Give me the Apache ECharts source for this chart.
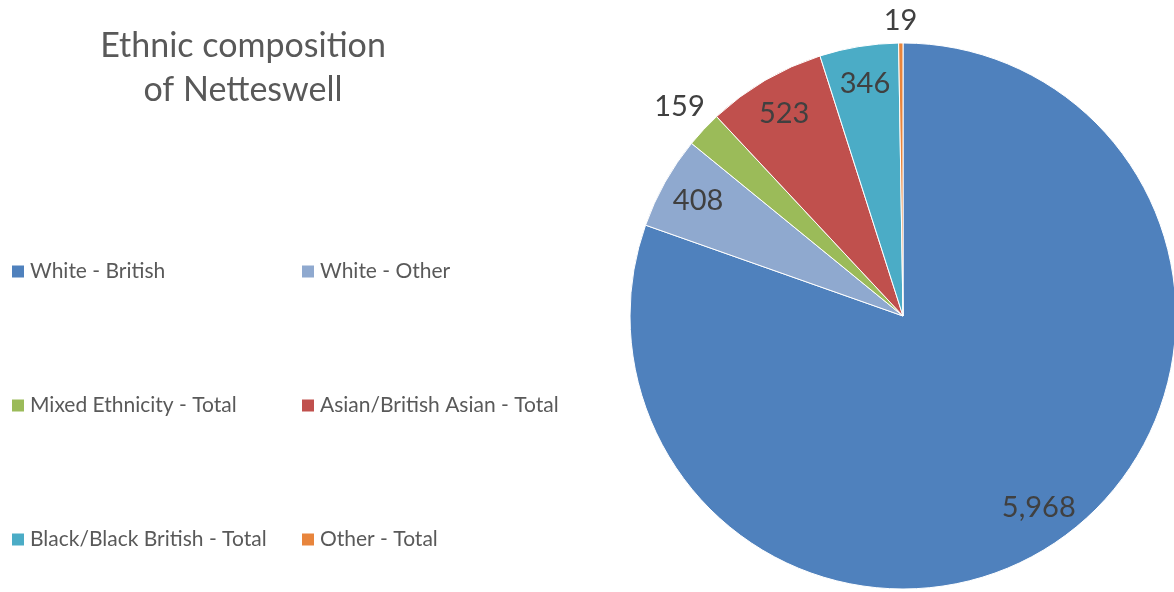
<!DOCTYPE html>
<html>
<head>
<meta charset="utf-8">
<script src="https://cdn.jsdelivr.net/npm/echarts@6/dist/echarts.min.js"></script>
<style>
  html, body { margin: 0; padding: 0; background: #fff; }
  #chart { width: 1174px; height: 592px; }
</style>
</head>
<body>
<div id="chart"></div>
<script>
const categories = [
  "White - British",
  "White - Other",
  "Mixed Ethnicity - Total",
  "Asian/British Asian - Total",
  "Black/Black British - Total",
  "Other - Total"
];
const values = [5968, 408, 159, 523, 346, 19];
const colors = ["#4F81BD", "#8FA9CF", "#9BBB59", "#C0504D", "#4BACC6", "#E8853C"];
// which slices carry their label outside the pie
const outsideLabel = [false, false, true, false, false, true];

const FONT = "Lato, 'Open Sans', sans-serif";
const R = 273;
const CENTER = [903, 316];

const chart = echarts.init(document.getElementById("chart"));

const pieData = categories.map((name, i) => ({
  name: name,
  value: values[i],
  itemStyle: { color: colors[i] }
}));

const fmt = (p) => p.value.toLocaleString("en-US");

// one legend per item so the 2 x 3 grid can be placed freely
const legends = categories.map((name, i) => ({
  data: [name],
  left: i % 2 === 0 ? 10 : 300,
  top: 261 + Math.floor(i / 2) * 134,
  padding: 0,
  icon: "rect",
  itemWidth: 14,
  itemHeight: 14,
  itemGap: 6,
  selectedMode: false,
  textStyle: { fontFamily: FONT, fontSize: 21, color: "#595959", padding: [0, 0, 0, 0] }
}));

chart.setOption({
  animation: false,
  title: {
    text: "Ethnic composition\nof Netteswell",
    left: 238,
    top: 19,
    textAlign: "center",
    textStyle: {
      fontFamily: FONT,
      fontSize: 34,
      fontWeight: "normal",
      color: "#595959",
      lineHeight: 44
    }
  },
  legend: legends,
  series: [
    {
      type: "pie",
      center: CENTER,
      radius: [0, R],
      startAngle: 90,
      clockwise: true,
      avoidLabelOverlap: false,
      itemStyle: { borderColor: "#fff", borderWidth: 1 },
      label: { show: false },
      labelLine: { show: false },
      emphasis: { disabled: true },
      data: pieData
    },
    {
      // transparent ring that only places the labels inside the slices
      type: "pie",
      center: CENTER,
      radius: [R * 0.7, R],
      startAngle: 90,
      silent: true,
      avoidLabelOverlap: false,
      legendHoverLink: false,
      itemStyle: { color: "rgba(0,0,0,0)" },
      labelLine: { show: false },
      emphasis: { disabled: true },
      data: categories.map((name, i) => ({
        name: name,
        value: values[i],
        label: {
          show: !outsideLabel[i],
          position: "inside",
          formatter: fmt,
          fontFamily: FONT,
          fontSize: 29,
          color: "#404040"
        }
      }))
    },
    {
      // ring just outside the pie for the labels of the thin slices
      type: "pie",
      center: CENTER,
      radius: [R * 0.98, R * 1.24],
      startAngle: 90,
      silent: true,
      avoidLabelOverlap: false,
      legendHoverLink: false,
      itemStyle: { color: "rgba(0,0,0,0)" },
      labelLine: { show: false },
      emphasis: { disabled: true },
      // the tiny last slice sits a little closer to the rim
      labelLayout: (p) => (p.dataIndex === 5 ? { dy: 11 } : {}),
      data: categories.map((name, i) => ({
        name: name,
        value: values[i],
        label: {
          show: outsideLabel[i],
          position: "inside",
          formatter: fmt,
          fontFamily: FONT,
          fontSize: 29,
          color: "#404040"
        }
      }))
    }
  ]
});

window.addEventListener("resize", () => {
  chart.resize();
});
</script>
</body>
</html>
